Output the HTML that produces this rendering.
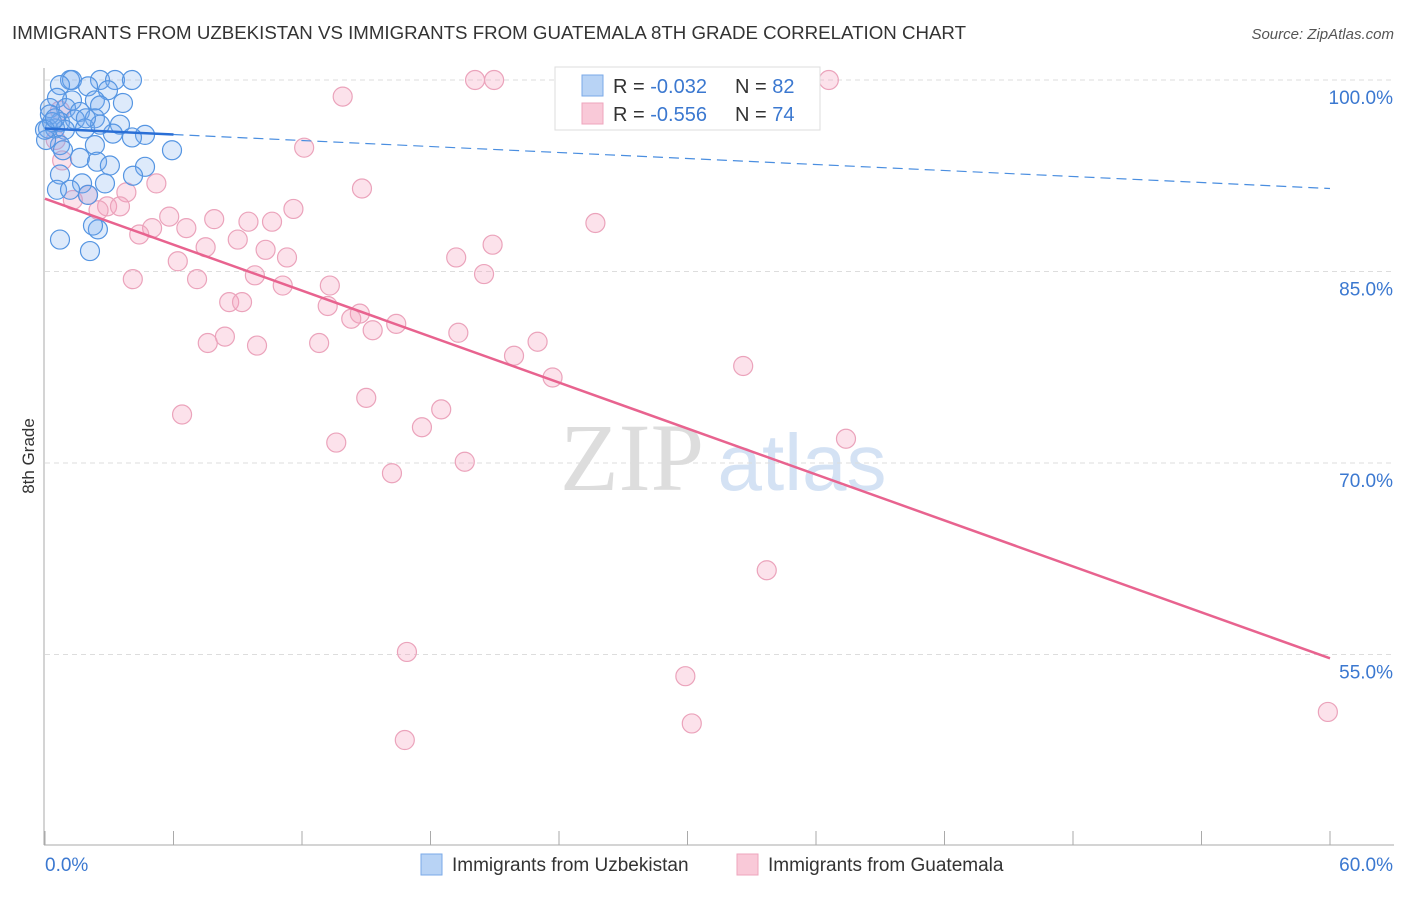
<!DOCTYPE html>
<html><head><meta charset="utf-8"><style>
body{margin:0;background:#fff;font-family:"Liberation Sans",sans-serif}
</style></head><body>
<svg id="c" width="1406" height="892" xmlns="http://www.w3.org/2000/svg">
<text x="12" y="39" font-size="18" fill="#333" textLength="954" lengthAdjust="spacingAndGlyphs">IMMIGRANTS FROM UZBEKISTAN VS IMMIGRANTS FROM GUATEMALA 8TH GRADE CORRELATION CHART</text>
<text x="1394" y="39" font-size="15" fill="#555" text-anchor="end" font-style="italic">Source: ZipAtlas.com</text>
<text x="34" y="456" font-size="17" fill="#333" text-anchor="middle" transform="rotate(-90 34 456)">8th Grade</text>
<g>
<text x="632" y="490" font-size="96" fill="#ddd" text-anchor="middle" font-family="Liberation Serif,serif">ZIP</text>
<text x="802" y="490" font-size="80" fill="#d4e2f4" text-anchor="middle">atlas</text>
</g>
<g id="grid"></g><g id="axes"></g><g id="pts"></g><g id="trend"></g>
<g>
<rect x="555" y="67" width="265" height="63" fill="#fff" stroke="#ddd"/>
<rect x="582" y="75" width="21" height="21" fill="#b8d3f5" stroke="#7aaae8"/>
<rect x="582" y="103" width="21" height="21" fill="#f9c9d8" stroke="#eea5bd"/>
<text x="613" y="93" font-size="20" fill="#333">R = <tspan fill="#3b78d0">-0.032</tspan></text>
<text x="735" y="93" font-size="20" fill="#333">N = <tspan fill="#3b78d0">82</tspan></text>
<text x="613" y="121" font-size="20" fill="#333">R = <tspan fill="#3b78d0">-0.556</tspan></text>
<text x="735" y="121" font-size="20" fill="#333">N = <tspan fill="#3b78d0">74</tspan></text>
</g>
<g>
<rect x="421" y="854" width="21" height="21" fill="#b8d3f5" stroke="#7aaae8"/>
<text x="452" y="871" font-size="19" fill="#333">Immigrants from Uzbekistan</text>
<rect x="737" y="854" width="21" height="21" fill="#f9c9d8" stroke="#eea5bd"/>
<text x="768" y="871" font-size="19" fill="#333">Immigrants from Guatemala</text>
</g>
</svg>
<script>
const yTicks=[100,85,70,55];
const yTickLabels=["100.0%","85.0%","70.0%","55.0%"];
const xTickLabels=["0.0%","60.0%"];
const blueX=[1.17,2.57,3.27,4.06,1.26,0.70,2.01,2.94,2.33,1.26,0.56,0.23,0.98,1.63,2.57,3.64,0.70,1.40,2.33,3.50,0.14,0.47,0.93,1.87,3.17,4.67,4.06,5.93,2.33,0.70,1.63,2.43,3.03,4.67,4.11,0.70,1.73,2.80,0.56,2.01,0.70,2.10,2.47,2.24,0.05,0.23,0.84,1.17,2.57,1.91,0.33,0,0.47];
const blueY=[100,100,100,100,100,99.6,99.5,99.2,98.4,98.4,98.6,97.8,97.8,97.5,98.0,98.2,96.7,96.9,97.0,96.5,96.2,96.2,96.1,96.2,95.8,95.7,95.5,94.5,94.9,94.9,93.9,93.6,93.3,93.2,92.5,92.6,91.9,91.9,91.4,91.0,87.5,86.6,88.3,88.6,95.3,97.3,94.5,91.4,96.5,97.0,96.7,96.1,97.0];
const pinkX=[20.08,20.97,36.6,13.9,12.1,14.8,5.2,3.8,11.6,2.9,3.5,2.5,1.3,5.8,7.9,9.5,10.6,6.6,5.0,4.4,9.0,7.5,10.3,11.3,6.2,20.9,19.2,20.5,25.7,4.1,7.1,9.8,11.1,13.3,8.6,9.2,13.2,14.7,14.3,16.4,15.3,19.3,8.4,7.6,9.9,12.8,23.0,21.9,23.7,32.6,15.0,6.4,18.5,17.6,13.6,37.4,19.6,16.2,33.7,16.9,29.9,30.2,16.8,59.9,0.7,0.8,2.0,0.5];
const pinkY=[100,100,100,98.7,94.7,91.5,91.9,91.2,89.9,90.1,90.1,89.8,90.6,89.3,89.1,88.9,88.9,88.4,88.4,87.9,87.5,86.9,86.7,86.1,85.8,87.1,86.1,84.8,88.8,84.4,84.4,84.7,83.9,83.9,82.6,82.6,82.3,81.7,81.3,80.9,80.4,80.2,79.9,79.4,79.2,79.4,79.5,78.4,76.7,77.6,75.1,73.8,74.2,72.8,71.6,71.9,70.1,69.2,61.6,55.2,53.3,49.6,48.3,50.5,97.6,93.7,91.0,95.3];
const blueTrend=[96.2,91.5];
const pinkTrend=[90.7,54.7];
const NS="http://www.w3.org/2000/svg";
const sx=v=>45+v/60*1285, sy=v=>80+(100-v)/15*191.5;
function mk(t,a,p){const e=document.createElementNS(NS,t);for(const k in a)e.setAttribute(k,a[k]);document.getElementById(p).appendChild(e);return e;}
yTicks.forEach((t,i)=>{
 const g=mk('line',{x1:45,x2:1394,y1:sy(t),y2:sy(t),stroke:'#ddd','stroke-dasharray':'5,4'},'grid');
 
 
 const l=mk('text',{x:1393,y:sy(t)+24,'font-size':19,fill:'#3b78d0','text-anchor':'end'},'axes');
 l.textContent=yTickLabels[i];
 
 
});
mk('line',{x1:44,x2:44,y1:68,y2:845,stroke:'#aaa'},'axes');
mk('line',{x1:44,x2:1394,y1:845,y2:845,stroke:'#aaa'},'axes');
for(let i=0;i<=10;i++){const x=sx(i*6);mk('line',{x1:x,x2:x,y1:831,y2:845,stroke:'#aaa'},'axes');}
[0,60].forEach((v,i)=>{const l=mk('text',{x:i?1393:45,y:871,'font-size':19,fill:'#3b78d0','text-anchor':i?'end':'start'},'axes');l.textContent=xTickLabels[i];
 
 });
pinkX.forEach((x,i)=>{const c=mk('circle',{cx:sx(x),cy:sy(pinkY[i]),r:9.5,fill:'rgba(244,160,190,0.3)',stroke:'#eba3bb','stroke-width':1.2},'pts');
 
 });
blueX.forEach((x,i)=>{const c=mk('circle',{cx:sx(x),cy:sy(blueY[i]),r:9.5,fill:'rgba(120,172,238,0.25)',stroke:'#5595e2','stroke-width':1.2},'pts');
 
 });
const by=x=>blueTrend[0]+(blueTrend[1]-blueTrend[0])*x/60;
const py=x=>pinkTrend[0]+(pinkTrend[1]-pinkTrend[0])*x/60;
let t=mk('line',{x1:sx(0),y1:sy(py(0)),x2:sx(60),y2:sy(py(60)),stroke:'#e8638f','stroke-width':2.5},'trend');


t=mk('line',{x1:sx(6),y1:sy(by(6)),x2:sx(60),y2:sy(by(60)),stroke:'#4a8ee0','stroke-width':1.2,'stroke-dasharray':'10,6'},'trend');


t=mk('line',{x1:sx(0),y1:sy(by(0)),x2:sx(6),y2:sy(by(6)),stroke:'#2a6fd6','stroke-width':2.5},'trend');


</script>
</body></html>
